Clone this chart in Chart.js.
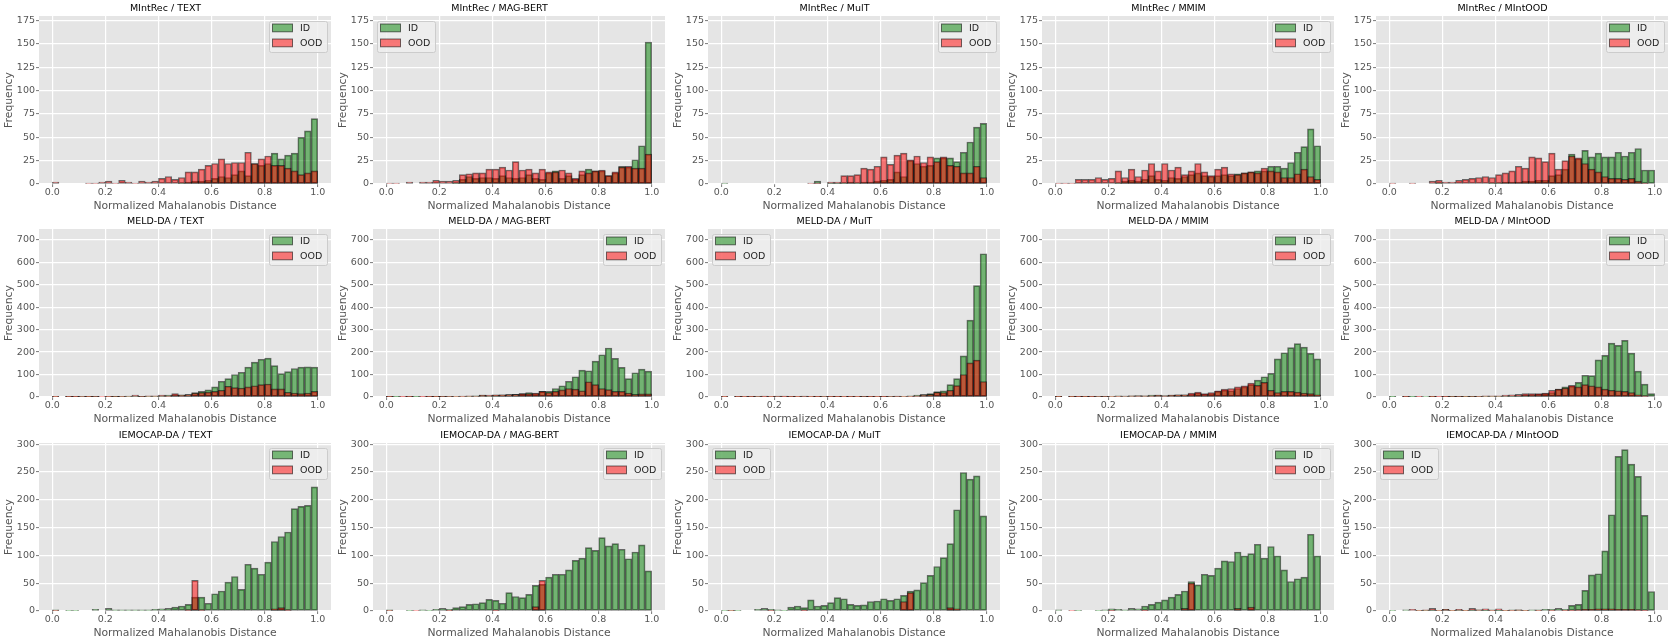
<!DOCTYPE html>
<html>
<head>
<meta charset="utf-8">
<script src="https://cdn.jsdelivr.net/npm/chart.js@4.4.1/dist/chart.umd.min.js"></script>
<style>
  body { margin: 0; background: #ffffff; }
  #wrap { position: relative; width: 1677px; height: 643px; overflow: hidden; }
  #wrap canvas { position: absolute; }
</style>
</head>
<body>
<div id="wrap"></div>
<script>
// 40 bins over [0, 1]
var binCenters = [];
for (var b = 0; b < 40; b++) { binCenters.push((b + 0.5) / 40); }

var xTicks = [0, 0.2, 0.4, 0.6, 0.8, 1.0];
var yTicksRow = [
    [0, 25, 50, 75, 100, 125, 150, 175],
    [0, 100, 200, 300, 400, 500, 600, 700],
    [0, 50, 100, 150, 200, 250, 300]
];
var yMaxRow = [180, 748, 302];

var datasetNames = ['MIntRec', 'MELD-DA', 'IEMOCAP-DA'];
var methodNames = ['TEXT', 'MAG-BERT', 'MulT', 'MMIM', 'MIntOOD'];

// ---- MIntRec ----
var mintrecTextId = [0,0,0,0,0, 0,0,0,0,0, 0,0,0,0,0, 0,0,0,0,1,
    2,3,3,4,6, 8,7,10,14,9, 22,20,22,33,27, 31,33,50,57,70];
var mintrecTextOod = [2,0,0,0,0, 1,1,2,3,1, 4,2,1,3,2, 3,6,8,5,7,
    13,13,16,20,22, 27,22,23,23,34, 22,27,30,20,20, 17,14,10,12,14];
var mintrecMagId = [0,0,0,0,0, 0,0,0,0,0, 1,5,8,6,7, 7,6,9,7,6,
    7,10,6,5,12, 14,6,9,5,10, 16,14,14,9,12, 19,18,26,41,152];
var mintrecMagOod = [1,1,0,2,0, 2,2,4,3,3, 4,10,11,12,12, 16,16,18,15,24,
    15,16,12,16,13, 13,15,12,6,14, 12,14,15,9,13, 18,19,17,17,32];
var mintrecMultId = [1,0,0,0,0, 0,0,0,0,0, 0,0,0,0,3, 0,1,1,1,2,
    1,2,2,3,4, 5,13,8,25,22, 19,20,28,28,28, 24,34,45,61,65];
var mintrecMultOod = [0,0,0,0,0, 0,0,0,0,0, 0,0,0,1,1, 0,2,2,9,9,
    10,17,16,19,29, 21,31,33,26,30, 23,29,24,29,20, 19,12,12,19,7];
var mintrecMmimId = [0,0,0,0,0, 0,0,0,0,1, 3,4,3,5,9, 5,4,7,6,8,
    10,12,9,8,9, 10,9,11,12,13, 14,14,19,19,17, 23,34,40,59,41];
var mintrecMmimOod = [1,1,1,5,5, 5,7,5,6,14, 7,16,8,15,22, 14,22,15,18,10,
    14,22,13,9,16, 18,11,10,12,13, 12,17,14,13,7, 7,11,16,8,5];
var mintrecMintoodId = [0,0,0,0,0, 0,0,1,0,0, 0,0,0,0,0, 1,1,2,2,2,
    3,3,4,4,9, 10,16,32,27,36, 29,33,29,29,34, 30,34,38,15,15];
var mintrecMintoodOod = [1,0,0,1,0, 0,3,4,2,2, 4,5,6,7,8, 7,10,12,14,19,
    17,29,28,24,33, 16,25,30,28,22, 16,13,8,6,6, 5,6,3,1,0];

// ---- MELD-DA ----
var meldTextId = [3,0,2,2,3, 1,2,0,3,1, 2,3,4,2,3, 3,5,8,10,10,
    12,20,25,32,45, 70,82,100,110,133, 155,168,173,140,104, 113,127,133,134,133];
var meldTextOod = [1,0,1,1,2, 1,2,3,1,2, 3,4,8,2,5, 5,8,5,15,8,
    10,18,20,22,25, 30,48,42,40,45, 50,55,58,36,36, 21,18,15,18,25];
var meldMagId = [2,1,0,2,1, 0,2,1,2,3, 3,4,3,5,8, 5,8,10,10,12,
    15,20,15,25,25, 38,50,70,90,120, 117,160,188,218,172, 132,82,108,124,115];
var meldMagOod = [1,0,1,1,0, 1,1,1,2,2, 3,3,5,4,8, 8,10,10,12,12,
    15,15,18,25,20, 25,32,38,35,28, 68,55,38,33,25, 25,18,12,14,14];
var meldMultId = [3,0,2,3,2, 3,4,3,4,4, 2,3,4,3,2, 3,2,2,3,2,
    3,2,2,3,2, 3,4,3,5,8, 12,15,24,28,55, 82,183,342,496,638];
var meldMultOod = [1,0,1,1,1, 2,1,1,2,1, 1,1,2,1,1, 2,1,1,1,1,
    1,2,1,1,1, 2,2,3,3,5, 8,12,21,20,30, 51,100,152,164,69];
var meldMmimId = [1,0,1,2,1, 2,3,2,3,5, 4,5,6,5,8, 8,6,8,10,10,
    12,18,12,15,25, 30,28,38,45,55, 75,90,105,170,197, 220,238,222,194,170];
var meldMmimOod = [1,0,1,1,1, 1,2,2,3,3, 4,5,5,5,5, 8,5,8,10,10,
    18,22,15,20,28, 35,38,45,50,62, 52,65,30,20,25, 25,22,18,15,10];
var meldMintoodId = [1,0,2,1,0, 3,1,0,2,1, 2,1,1,2,3, 3,3,4,5,6,
    8,10,12,15,20, 35,45,48,65,97, 95,165,185,240,230, 252,195,115,57,15];
var meldMintoodOod = [0,0,1,0,1, 0,1,1,1,2, 2,3,2,3,5, 5,5,8,10,12,
    15,15,15,17,30, 35,40,52,45,55, 50,45,35,30,28, 25,20,10,5,0];

// ---- IEMOCAP-DA ----
var iemoTextId = [2,0,1,1,0, 0,3,0,5,2, 2,2,2,2,2, 3,4,5,7,9,
    12,25,25,14,31, 36,52,62,39,84, 77,66,88,125,134, 142,184,188,190,223];
var iemoTextOod = [1,0,0,0,0, 0,0,0,0,0, 0,0,0,0,0, 0,0,0,0,0,
    2,55,2,0,0, 0,0,0,0,0, 0,0,0,4,6, 2,0,0,0,0];
var iemoMagId = [2,0,0,1,0, 2,1,3,5,3, 6,8,12,13,15, 21,19,14,33,26,
    24,30,46,48,61, 66,66,74,91,95, 114,109,132,117,121, 111,94,106,119,72];
var iemoMagOod = [1,0,0,0,1, 0,0,0,0,1, 0,0,0,0,0, 0,1,0,0,0,
    0,0,8,55,0, 0,0,0,0,0, 0,0,0,0,0, 0,0,0,0,0];
var iemoMultId = [1,1,1,0,0, 3,5,3,2,1, 7,9,6,20,9, 10,15,24,22,12,
    10,11,17,18,22, 19,22,28,36,38, 51,64,80,96,121, 182,249,237,243,171];
var iemoMultOod = [0,1,0,0,0, 0,0,1,0,0, 0,0,1,0,0, 0,0,0,0,0,
    0,0,0,0,0, 0,0,17,33,0, 0,0,0,0,6, 4,0,0,0,0];
var iemoMmimId = [2,0,0,1,0, 0,1,2,4,3, 2,5,4,9,12, 16,20,25,30,36,
    53,47,66,64,77, 90,89,106,99,103, 120,95,116,99,74, 53,58,61,138,99];
var iemoMmimOod = [0,0,1,0,0, 0,0,0,1,0, 0,0,0,1,0, 0,0,0,0,5,
    50,0,0,0,0, 0,0,5,0,7, 0,0,0,0,0, 0,0,0,0,0];
var iemoMintoodId = [1,0,2,0,1, 1,2,1,3,1, 2,1,2,2,1, 2,1,1,2,2,
    1,2,2,3,3, 5,3,10,12,37, 65,67,108,173,278, 290,264,242,172,35];
var iemoMintoodOod = [0,0,0,3,1, 2,5,1,3,1, 3,1,5,2,4, 1,4,1,1,2,
    1,0,1,0,1, 0,1,1,2,3, 3,4,4,4,3, 3,3,2,1,0];

var panels = [
    [mintrecTextId, mintrecTextOod, 'right'],
    [mintrecMagId, mintrecMagOod, 'left'],
    [mintrecMultId, mintrecMultOod, 'right'],
    [mintrecMmimId, mintrecMmimOod, 'right'],
    [mintrecMintoodId, mintrecMintoodOod, 'right'],
    [meldTextId, meldTextOod, 'right'],
    [meldMagId, meldMagOod, 'right'],
    [meldMultId, meldMultOod, 'left'],
    [meldMmimId, meldMmimOod, 'right'],
    [meldMintoodId, meldMintoodOod, 'right'],
    [iemoTextId, iemoTextOod, 'right'],
    [iemoMagId, iemoMagOod, 'right'],
    [iemoMultId, iemoMultOod, 'left'],
    [iemoMmimId, iemoMmimOod, 'right'],
    [iemoMintoodId, iemoMintoodOod, 'left']
];

Chart.defaults.font.family = '"DejaVu Sans", sans-serif';

var plotBg = {
    id: 'plotBg',
    beforeDraw: function (chart) {
        var a = chart.chartArea, ctx = chart.ctx;
        ctx.save();
        ctx.fillStyle = '#e5e5e5';
        ctx.fillRect(a.left, a.top, a.right - a.left, a.bottom - a.top);
        ctx.restore();
    }
};

var insetLegend = {
    id: 'insetLegend',
    afterDraw: function (chart, args, opts) {
        var a = chart.chartArea, ctx = chart.ctx;
        var w = 58, h = 31;
        var x = opts.side === 'left' ? a.left + 4 : a.right - 4 - w;
        var y = a.top + 5;
        ctx.save();
        ctx.beginPath();
        ctx.roundRect(x + 0.5, y + 0.5, w, h, 2);
        ctx.fillStyle = 'rgba(238,238,238,0.85)';
        ctx.fill();
        ctx.strokeStyle = '#cccccc';
        ctx.lineWidth = 1;
        ctx.stroke();
        ctx.font = '9.5px "DejaVu Sans"';
        ctx.textBaseline = 'middle';
        chart.data.datasets.forEach(function (ds, k) {
            var py = y + 3 + k * 15;
            ctx.fillStyle = ds.backgroundColor;
            ctx.fillRect(x + 3.5, py, 20, 7.8);
            ctx.strokeStyle = ds.borderColor;
            ctx.strokeRect(x + 3.5, py, 20, 7.8);
            ctx.fillStyle = '#222222';
            ctx.fillText(ds.label, x + 31, py + 4.3);
        });
        ctx.restore();
    }
};

function toPoints(vals) {
    return vals.map(function (v, i) { return { x: binCenters[i], y: v }; });
}

var lefts = [0, 334, 669, 1003, 1337];
var tops = [0, 213, 427];
var wrap = document.getElementById('wrap');

panels.forEach(function (p, n) {
    var row = Math.floor(n / 5), col = n % 5;
    var canvas = document.createElement('canvas');
    canvas.width = 334;
    canvas.height = 214;
    canvas.style.left = lefts[col] + 'px';
    canvas.style.top = tops[row] + 'px';
    wrap.appendChild(canvas);

    var yTicks = yTicksRow[row];
    var barStyle = { borderWidth: 1, borderSkipped: false, grouped: false,
        barPercentage: 1, categoryPercentage: 1 };

    new Chart(canvas, {
        type: 'bar',
        data: {
            datasets: [
                Object.assign({ label: 'ID', data: toPoints(p[0]), order: 2,
                    backgroundColor: 'rgba(0,128,0,0.5)', borderColor: 'rgba(0,0,0,0.55)' }, barStyle),
                Object.assign({ label: 'OOD', data: toPoints(p[1]), order: 1,
                    backgroundColor: 'rgba(255,0,0,0.5)', borderColor: 'rgba(0,0,0,0.55)' }, barStyle)
            ]
        },
        options: {
            responsive: false,
            animation: false,
            layout: { padding: { left: 0, right: 3, top: 0, bottom: 0 } },
            plugins: {
                legend: { display: false },
                tooltip: { enabled: false },
                title: { display: true, text: datasetNames[row] + ' / ' + methodNames[col],
                    color: '#000000', font: { size: 9.5, weight: 'normal' },
                    padding: { top: 3.2, bottom: 1.4 } },
                insetLegend: { side: p[2] }
            },
            scales: {
                x: {
                    type: 'linear', min: -0.05, max: 1.05, offset: false,
                    afterBuildTicks: function (s) { s.ticks = xTicks.map(function (v) { return { value: v }; }); },
                    afterFit: function (s) { s.height = 30; },
                    grid: { color: '#ffffff', lineWidth: 1.2, offset: false, tickLength: 3,
                        tickColor: '#555555', tickWidth: 0.8 },
                    border: { display: false },
                    ticks: { color: '#555555', font: { size: 9.5 }, padding: 0, maxRotation: 0,
                        autoSkip: false, callback: function (v) { return v.toFixed(1); } },
                    title: { display: true, text: 'Normalized Mahalanobis Distance', color: '#555555',
                        font: { size: 10.8 }, padding: { top: 0, bottom: 1.5 } }
                },
                y: {
                    min: 0, max: yMaxRow[row],
                    afterBuildTicks: function (s) { s.ticks = yTicks.map(function (v) { return { value: v }; }); },
                    afterFit: function (s) { s.width = 39; },
                    grid: { color: '#ffffff', lineWidth: 1.2, tickLength: 3,
                        tickColor: '#555555', tickWidth: 0.8 },
                    border: { display: false },
                    ticks: { color: '#555555', font: { size: 9.5 }, padding: 1 },
                    title: { display: true, text: 'Frequency', color: '#555555',
                        font: { size: 10.8 }, padding: { top: 2.5, bottom: 0 } }
                }
            }
        },
        plugins: [plotBg, insetLegend]
    });
});
</script>
</body>
</html>
